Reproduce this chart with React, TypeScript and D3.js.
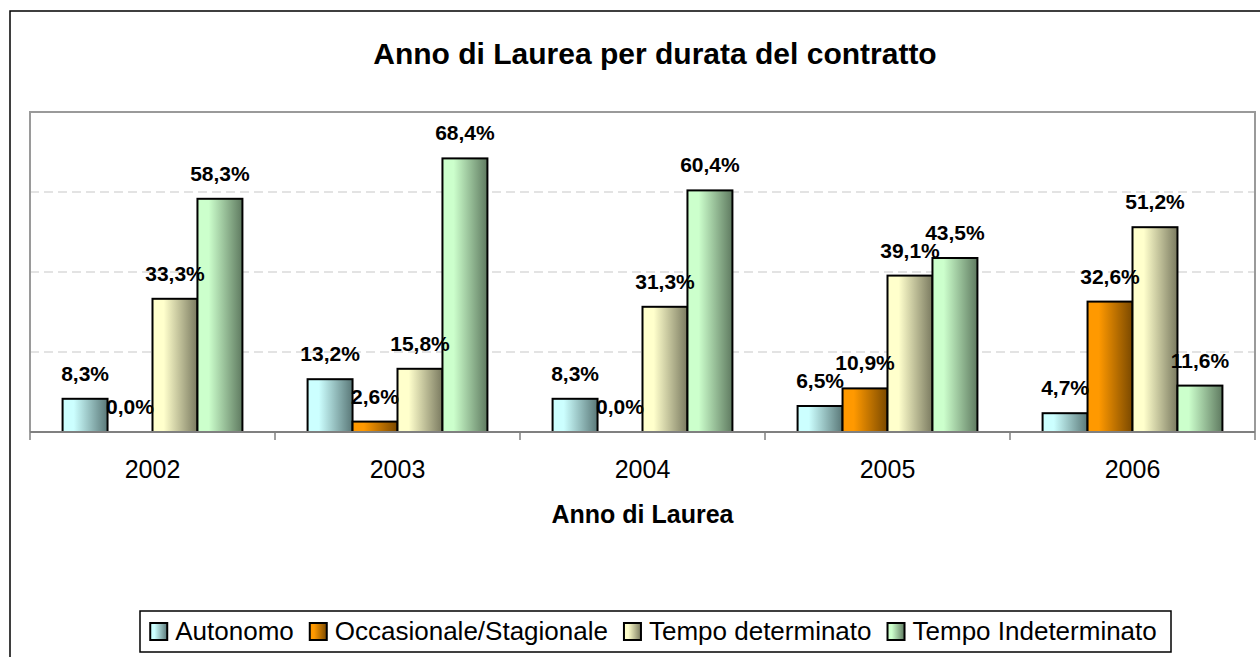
import React, { useEffect, useRef } from 'react';
import * as d3 from 'd3';

const years = ['2002', '2003', '2004', '2005', '2006'];
const seriesNames = ['Autonomo', 'Occasionale/Stagionale', 'Tempo determinato', 'Tempo Indeterminato'];
const autonomo = [8.3, 13.2, 8.3, 6.5, 4.7];
const occasionale = [0.0, 2.6, 0.0, 10.9, 32.6];
const tempoDeterminato = [33.3, 15.8, 31.3, 39.1, 51.2];
const tempoIndeterminato = [58.3, 68.4, 60.4, 43.5, 11.6];
const gridTicks = [20, 40, 60];

const seriesValues = [autonomo, occasionale, tempoDeterminato, tempoIndeterminato];
const lightColors = ['#CCFFFF', '#FF9900', '#FFFFCC', '#CCFFCC'];
const darkColors = ['#5A7878', '#7A4900', '#7A7A60', '#5F7A60'];

const FONT = 'Arial, "Liberation Sans", sans-serif';
const fmt = (v: number) => v.toFixed(1).replace('.', ',') + '%';

const App = () => {
  const ref = useRef<SVGSVGElement>(null);

  useEffect(() => {
    const svg = d3.select(ref.current);
    svg.selectAll('*').remove();

    const left = 30, right = 1255, top = 112, bottom = 432;

    // gradients
    const defs = svg.append('defs');
    seriesNames.forEach((_, i) => {
      const g = defs.append('linearGradient')
        .attr('id', `grad${i}`)
        .attr('x1', '0%').attr('x2', '100%').attr('y1', '0%').attr('y2', '0%');
      g.append('stop').attr('offset', '0%').attr('stop-color', lightColors[i]);
      g.append('stop').attr('offset', '25%').attr('stop-color', lightColors[i]);
      g.append('stop').attr('offset', '100%').attr('stop-color', darkColors[i]);
    });

    // outer chart border
    svg.append('rect')
      .attr('x', 10).attr('y', 11).attr('width', 1300).attr('height', 700)
      .attr('fill', 'white').attr('stroke', '#000').attr('stroke-width', 1.5);

    const x0 = d3.scaleBand().domain(years).range([left, right]).padding(0);
    const bw = x0.bandwidth();
    const x1 = d3.scaleBand().domain(seriesNames).range([bw * 0.133, bw * 0.867]).padding(0);
    const y = d3.scaleLinear().domain([0, 80]).range([bottom, top]);

    // gridlines
    svg.append('g').selectAll('line').data(gridTicks).enter().append('line')
      .attr('x1', left).attr('x2', right)
      .attr('y1', d => y(d)).attr('y2', d => y(d))
      .attr('stroke', '#C8C8C8').attr('stroke-width', 1.2)
      .attr('stroke-dasharray', '9,5');

    // plot area border
    svg.append('path')
      .attr('d', `M${left},${bottom} V${top} H${right} V${bottom}`)
      .attr('fill', 'none').attr('stroke', '#9A9A9A').attr('stroke-width', 2);

    // bars
    const groups = svg.append('g').selectAll('g').data(years).enter().append('g')
      .attr('transform', d => `translate(${x0(d)},0)`);

    groups.selectAll('rect')
      .data((_, yi) => seriesNames.map((s, si) => ({ s, si, v: seriesValues[si][yi] })))
      .enter().append('rect')
      .attr('x', d => x1(d.s)!)
      .attr('y', d => y(d.v))
      .attr('width', x1.bandwidth())
      .attr('height', d => bottom - y(d.v))
      .attr('fill', d => `url(#grad${d.si})`)
      .attr('stroke', '#000').attr('stroke-width', 2);

    // x axis
    const axis = svg.append('g').attr('transform', `translate(0,${bottom})`);
    axis.append('line').attr('x1', left).attr('x2', right).attr('y1', 0).attr('y2', 0)
      .attr('stroke', '#808080').attr('stroke-width', 2);
    const boundaries = years.map(d => x0(d)!).concat([right]);
    axis.selectAll('.bound').data(boundaries).enter().append('line')
      .attr('class', 'bound')
      .attr('x1', d => d).attr('x2', d => d).attr('y1', 0).attr('y2', 8)
      .attr('stroke', '#808080').attr('stroke-width', 1.5);

    svg.append('g').selectAll('text').data(years).enter().append('text')
      .attr('x', d => x0(d)! + bw / 2).attr('y', 478)
      .attr('text-anchor', 'middle')
      .style('font-family', FONT)
      .style('font-size', '25px')
      .text(d => d);

    // data labels
    groups.selectAll('text')
      .data((_, yi) => seriesNames.map((s, si) => ({ s, si, v: seriesValues[si][yi] })))
      .enter().append('text')
      .attr('x', d => x1(d.s)! + x1.bandwidth() / 2)
      .attr('y', d => y(d.v) - 18)
      .attr('text-anchor', 'middle')
      .style('font-family', FONT)
      .style('font-size', '21px').style('font-weight', 'bold')
      .text(d => fmt(d.v));

    // titles
    svg.append('text')
      .attr('x', 655).attr('y', 64).attr('text-anchor', 'middle')
      .style('font-family', FONT)
      .style('font-size', '30px').style('font-weight', 'bold')
      .text('Anno di Laurea per durata del contratto');

    svg.append('text')
      .attr('x', (left + right) / 2).attr('y', 523).attr('text-anchor', 'middle')
      .style('font-family', FONT)
      .style('font-size', '25px').style('font-weight', 'bold')
      .text('Anno di Laurea');

    // legend
    const legL = 140, legR = 1171, legT = 611, legB = 652;
    svg.append('rect')
      .attr('x', legL).attr('y', legT).attr('width', legR - legL).attr('height', legB - legT)
      .attr('fill', 'white').attr('stroke', '#000').attr('stroke-width', 1.5);

    const leg = svg.append('g');
    const items = leg.selectAll('g').data(seriesNames).enter().append('g');
    items.append('rect')
      .attr('width', 17).attr('height', 17).attr('y', 623)
      .attr('fill', (_, i) => `url(#grad${i})`)
      .attr('stroke', '#000').attr('stroke-width', 2);
    const texts = items.append('text')
      .attr('x', 25).attr('y', 640)
      .style('font-family', FONT)
      .style('font-size', '26px')
      .text(d => d);
    const widths: number[] = [];
    texts.each(function () { widths.push((this as SVGTextElement).getComputedTextLength()); });
    const gap = 16;
    const total = widths.reduce((a, w) => a + 25 + w, 0) + gap * (widths.length - 1);
    let cx = (legL + legR) / 2 - total / 2 - 2;
    items.each(function (_, i) {
      d3.select(this).attr('transform', `translate(${cx},0)`);
      cx += 25 + widths[i] + gap;
    });
  }, []);

  return (
    <svg ref={ref} width={1260} height={657}
      style={{ position: 'absolute', left: 0, top: 0, background: 'white' }} />
  );
};

export default App;
